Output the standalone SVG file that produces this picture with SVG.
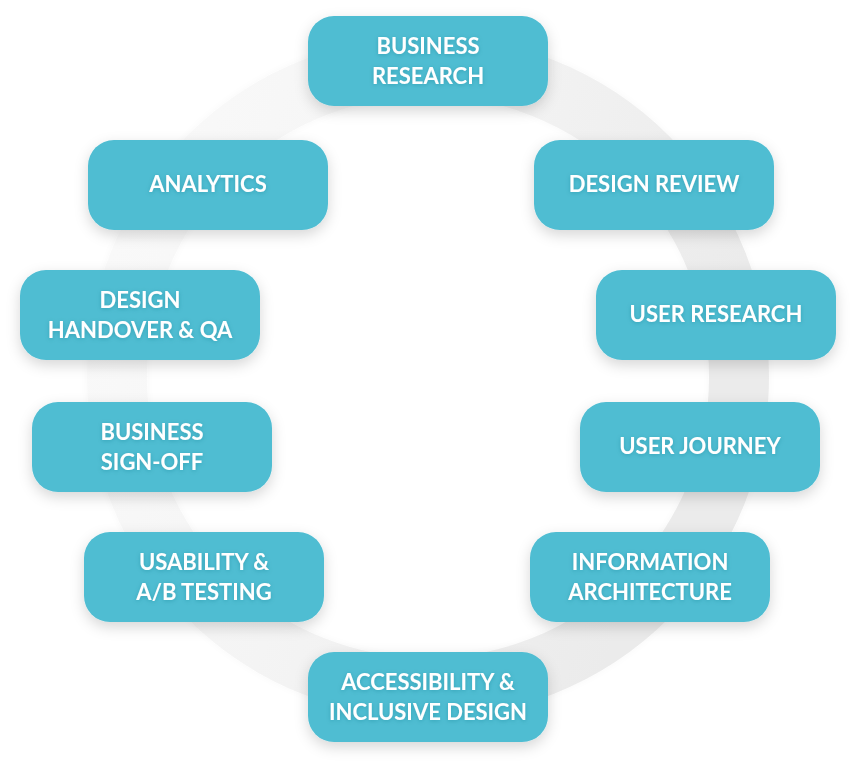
<svg xmlns="http://www.w3.org/2000/svg" width="856" height="766" viewBox="0 0 856 766">
<defs>
<filter id="boxShadow" x="-20%" y="-30%" width="140%" height="170%">
<feDropShadow dx="0" dy="5" stdDeviation="7" flood-color="#000" flood-opacity="0.16"/>
</filter>
<filter id="ringShadow" x="-20%" y="-20%" width="140%" height="140%">
<feDropShadow dx="0" dy="0" stdDeviation="3" flood-color="#000" flood-opacity="0.03"/>
</filter>
<filter id="textShadow" x="-10%" y="-30%" width="120%" height="160%">
<feDropShadow dx="0" dy="1" stdDeviation="2" flood-color="#1f6f80" flood-opacity="0.35"/>
</filter>
<linearGradient id="ringGrad" x1="0" y1="0" x2="1" y2="0.35">
<stop offset="0" stop-color="#fafafa"/>
<stop offset="0.5" stop-color="#f4f4f4"/>
<stop offset="1" stop-color="#ebebeb"/>
</linearGradient>
</defs>
<style>
.box{fill:#4fbdd2;filter:url(#boxShadow)}
.lbl{font-family:"Lato","Open Sans","Liberation Sans",sans-serif;font-weight:700;font-size:22px;fill:#ffffff;text-anchor:middle;filter:url(#textShadow)}
</style>
<rect width="856" height="766" fill="#ffffff"/>
<g id="ring">
<circle cx="428" cy="377" r="311" fill="none" stroke="url(#ringGrad)" stroke-width="60" filter="url(#ringShadow)"/>
</g>
<g id="connectors"></g>
<g id="n-business-research">
<rect class="box" x="308" y="16" width="240" height="90" rx="26"/>
<text class="lbl" x="428" y="54">BUSINESS</text>
<text class="lbl" x="428" y="84">RESEARCH</text>
</g>
<g id="n-design-review">
<rect class="box" x="534" y="140" width="240" height="90" rx="26"/>
<text class="lbl" x="654" y="192">DESIGN REVIEW</text>
</g>
<g id="n-user-research">
<rect class="box" x="596" y="270" width="240" height="90" rx="26"/>
<text class="lbl" x="716" y="322">USER RESEARCH</text>
</g>
<g id="n-user-journey">
<rect class="box" x="580" y="402" width="240" height="90" rx="26"/>
<text class="lbl" x="700" y="454">USER JOURNEY</text>
</g>
<g id="n-information-architecture">
<rect class="box" x="530" y="532" width="240" height="90" rx="26"/>
<text class="lbl" x="650" y="570">INFORMATION</text>
<text class="lbl" x="650" y="600">ARCHITECTURE</text>
</g>
<g id="n-accessibility">
<rect class="box" x="308" y="652" width="240" height="90" rx="26"/>
<text class="lbl" x="428" y="690">ACCESSIBILITY &amp;</text>
<text class="lbl" x="428" y="720">INCLUSIVE DESIGN</text>
</g>
<g id="n-usability">
<rect class="box" x="84" y="532" width="240" height="90" rx="26"/>
<text class="lbl" x="204" y="570">USABILITY &amp;</text>
<text class="lbl" x="204" y="600">A/B TESTING</text>
</g>
<g id="n-business-signoff">
<rect class="box" x="32" y="402" width="240" height="90" rx="26"/>
<text class="lbl" x="152" y="440">BUSINESS</text>
<text class="lbl" x="152" y="470">SIGN-OFF</text>
</g>
<g id="n-design-handover">
<rect class="box" x="20" y="270" width="240" height="90" rx="26"/>
<text class="lbl" x="140" y="308">DESIGN</text>
<text class="lbl" x="140" y="338">HANDOVER &amp; QA</text>
</g>
<g id="n-analytics">
<rect class="box" x="88" y="140" width="240" height="90" rx="26"/>
<text class="lbl" x="208" y="192">ANALYTICS</text>
</g>
</svg>
